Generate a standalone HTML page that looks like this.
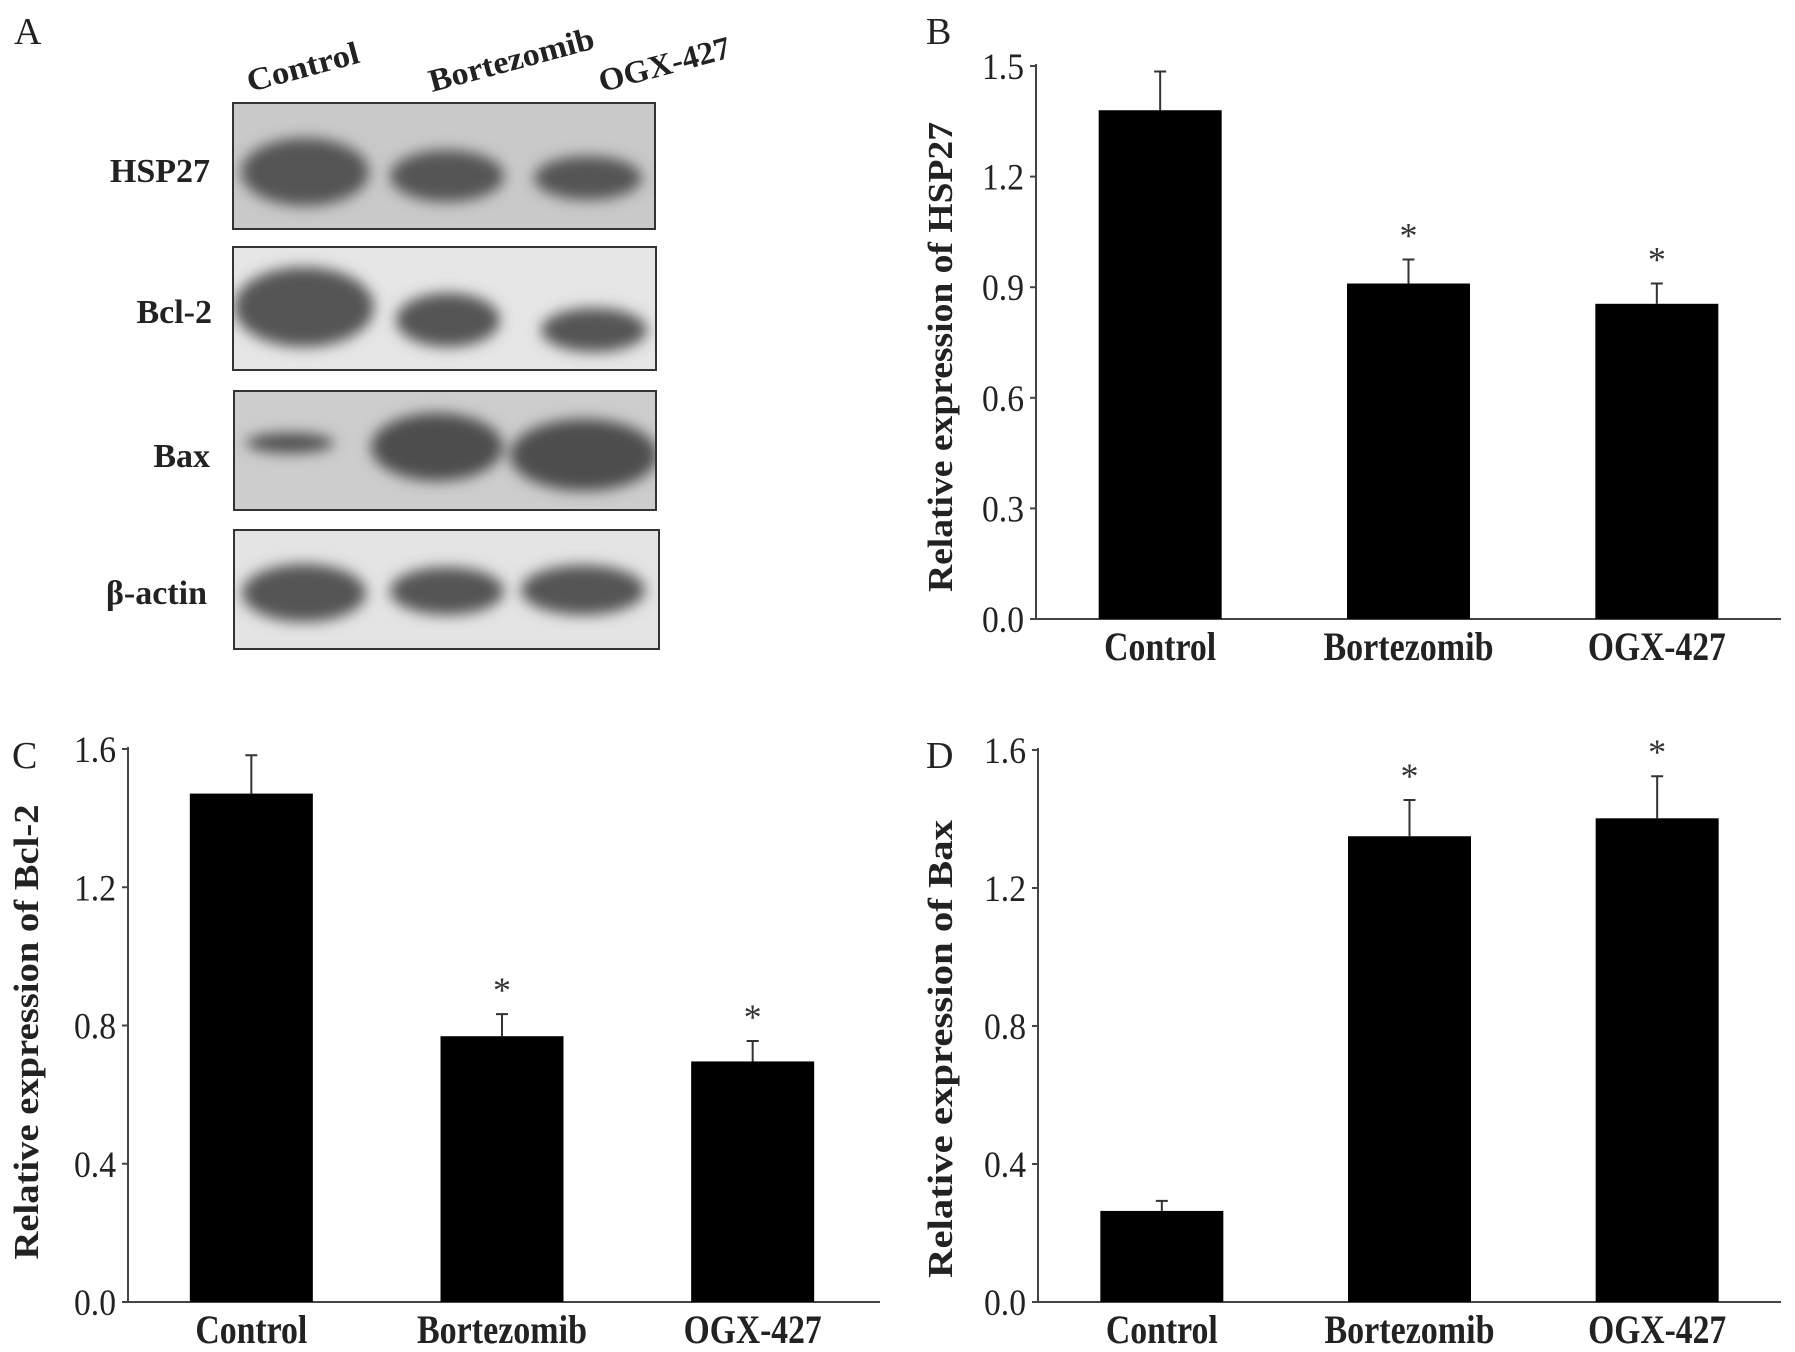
<!DOCTYPE html>
<html><head><meta charset="utf-8"><style>
html,body{margin:0;padding:0;background:#fff;}
svg{display:block;font-family:"Liberation Serif",serif;}
</style></head><body>
<svg id="fig" width="1795" height="1352" viewBox="0 0 1795 1352">
<defs>
<filter id="blur" x="-30%" y="-60%" width="160%" height="220%"><feGaussianBlur stdDeviation="7"/></filter>
<clipPath id="c1"><rect x="233" y="103" width="422" height="126"/></clipPath>
<clipPath id="c2"><rect x="233" y="247" width="423" height="123"/></clipPath>
<clipPath id="c3"><rect x="234" y="391" width="422" height="119"/></clipPath>
<clipPath id="c4"><rect x="234" y="530" width="425" height="119"/></clipPath>
</defs>
<g id="panelA">
<text x="14" y="44" font-size="38" fill="#222">A</text>
<text transform="translate(250,92) rotate(-15)" font-size="32" font-weight="bold" fill="#222" textLength="115" lengthAdjust="spacingAndGlyphs">Control</text>
<text transform="translate(432,92) rotate(-15)" font-size="32" font-weight="bold" fill="#222" textLength="170" lengthAdjust="spacingAndGlyphs">Bortezomib</text>
<text transform="translate(602,92) rotate(-15)" font-size="32" font-weight="bold" fill="#222" textLength="135" lengthAdjust="spacingAndGlyphs">OGX-427</text>

<g>
<rect x="233" y="103" width="422" height="126" fill="#c9c9c9"/>
<g filter="url(#blur)" fill="#555" clip-path="url(#c1)"><ellipse cx="305" cy="172" rx="64" ry="34"/><ellipse cx="447" cy="176" rx="57" ry="26"/><ellipse cx="588" cy="178" rx="54" ry="22"/></g>
<rect x="233" y="103" width="422" height="126" fill="none" stroke="#333" stroke-width="2"/>
<text x="210" y="182" font-size="34" font-weight="bold" text-anchor="end" fill="#222">HSP27</text>
</g>
<g>
<rect x="233" y="247" width="423" height="123" fill="#e6e6e6"/>
<g filter="url(#blur)" fill="#555" clip-path="url(#c2)"><ellipse cx="304" cy="307" rx="70" ry="40"/><ellipse cx="448" cy="320" rx="52" ry="27"/><ellipse cx="594" cy="330" rx="53" ry="22"/></g>
<rect x="233" y="247" width="423" height="123" fill="none" stroke="#333" stroke-width="2"/>
<text x="212" y="323" font-size="34" font-weight="bold" text-anchor="end" fill="#222">Bcl-2</text>
</g>
<g>
<rect x="234" y="391" width="422" height="119" fill="#cdcdcd"/>
<g filter="url(#blur)" fill="#4e4e4e" clip-path="url(#c3)"><ellipse cx="290" cy="443" rx="44" ry="10"/><ellipse cx="437" cy="447" rx="66" ry="34"/><ellipse cx="584" cy="455" rx="74" ry="36"/></g>
<rect x="234" y="391" width="422" height="119" fill="none" stroke="#333" stroke-width="2"/>
<text x="210" y="467" font-size="34" font-weight="bold" text-anchor="end" fill="#222">Bax</text>
</g>
<g>
<rect x="234" y="530" width="425" height="119" fill="#e4e4e4"/>
<g filter="url(#blur)" fill="#555" clip-path="url(#c4)"><ellipse cx="304" cy="593" rx="62" ry="29"/><ellipse cx="447" cy="591" rx="57" ry="24"/><ellipse cx="583" cy="590" rx="62" ry="25"/></g>
<rect x="234" y="530" width="425" height="119" fill="none" stroke="#333" stroke-width="2"/>
<text x="207" y="604" font-size="34" font-weight="bold" text-anchor="end" fill="#222">β-actin</text>
</g>
</g>
<g id="charts"></g>
</svg>
<script>
const categories = ["Control", "Bortezomib", "OGX-427"];
const hspValues = [1.38, 0.91, 0.855];
const hspErrors = [0.105, 0.065, 0.055];
const hspTicks = ["0.0", "0.3", "0.6", "0.9", "1.2", "1.5"];
const bclValues = [1.471, 0.769, 0.696];
const bclErrors = [0.111, 0.064, 0.059];
const bclTicks = ["0.0", "0.4", "0.8", "1.2", "1.6"];
const baxValues = [0.264, 1.35, 1.402];
const baxErrors = [0.029, 0.105, 0.122];
const baxTicks = ["0.0", "0.4", "0.8", "1.2", "1.6"];
const hspStars = [false, true, true];
const bclStars = [false, true, true];
const baxStars = [false, true, true];

const NS = "http://www.w3.org/2000/svg";
const root = document.getElementById("charts");
function mk(tag, attrs, parent, text) {
  const e = document.createElementNS(NS, tag);
  for (const k in attrs) e.setAttribute(k, attrs[k]);
  if (text !== undefined) e.textContent = text;
  parent.appendChild(e);
  return e;
}
function chart(cfg) {
  const g = mk("g", {}, root);
  
  
  const yMax = parseFloat(cfg.ticks[cfg.ticks.length - 1]);
  const y = v => cfg.y0 - (v / yMax) * (cfg.y0 - cfg.yTop);
  const slot = (cfg.xEnd - cfg.x0) / categories.length;
  const bw = 123;
  const xc = i => cfg.x0 + slot * (i + 0.5) + cfg.shift;
  const lbl = mk("text", {x: cfg.lx, y: cfg.ly, "font-size": 38, fill: "#222"}, g, cfg.letter);
  
  
  const ax = mk("path", {d: `M${cfg.x0} ${cfg.yTop - 2} V${cfg.y0} H${cfg.xEnd}`, fill: "none", stroke: "#444", "stroke-width": 2}, g);
  
  
  cfg.ticks.forEach(t => {
    const ty = y(parseFloat(t));
    mk("line", {x1: cfg.x0 - 6, x2: cfg.x0, y1: ty, y2: ty, stroke: "#444", "stroke-width": 2}, g);
    const tl = mk("text", {x: cfg.x0 - 12, y: ty + 13, "font-size": 37, "text-anchor": "end", fill: "#222", textLength: 42, lengthAdjust: "spacingAndGlyphs"}, g, t);
    
    
  });
  const yt = mk("text", {transform: `translate(${cfg.tx},${cfg.ty}) rotate(-90)`, "font-size": 35, "font-weight": "bold", "text-anchor": "middle", fill: "#222", textLength: cfg.tlen, lengthAdjust: "spacingAndGlyphs"}, g, cfg.title);
  
  
  const lens = [112, 170, 138];
  categories.forEach((c, i) => {
    const v = cfg.values[i], e = cfg.errors[i];
    const cx = xc(i);
    const eb = mk("path", {d: `M${cx} ${y(v)} V${y(v + e)} M${cx - 6} ${y(v + e)} H${cx + 6}`, stroke: "#333", "stroke-width": 2, fill: "none"}, g);
    
    
    const b = mk("rect", {x: cx - bw / 2, y: y(v), width: bw, height: cfg.y0 - y(v), fill: "#000"}, g);
    
    
    if (cfg.stars[i]) {
      const s = mk("text", {x: cx, y: y(v + e) - 12, "font-size": 36, "text-anchor": "middle", fill: "#333"}, g, "*");
      
      
    }
    const cl = mk("text", {x: cx, y: cfg.y0 + 41, "font-size": 40, "font-weight": "bold", "text-anchor": "middle", fill: "#222", textLength: lens[i], lengthAdjust: "spacingAndGlyphs"}, g, c);
    
    
  });
}
chart({name: "chart-hsp27", letter: "B", lx: 926, ly: 44, x0: 1036, xEnd: 1781, shift: 0, y0: 619, yTop: 66, ticks: hspTicks, values: hspValues, errors: hspErrors, stars: hspStars, title: "Relative expression of HSP27", tx: 952, ty: 357, tlen: 470});
chart({name: "chart-bcl2", letter: "C", lx: 12, ly: 768, x0: 128, xEnd: 880, shift: -2, y0: 1302, yTop: 749, ticks: bclTicks, values: bclValues, errors: bclErrors, stars: bclStars, title: "Relative expression of Bcl-2", tx: 38, ty: 1032, tlen: 455});
chart({name: "chart-bax", letter: "D", lx: 926, ly: 768, x0: 1038, xEnd: 1781, shift: 0, y0: 1302, yTop: 750, ticks: baxTicks, values: baxValues, errors: baxErrors, stars: baxStars, title: "Relative expression of Bax", tx: 952, ty: 1049, tlen: 458});
</script>
</body></html>
